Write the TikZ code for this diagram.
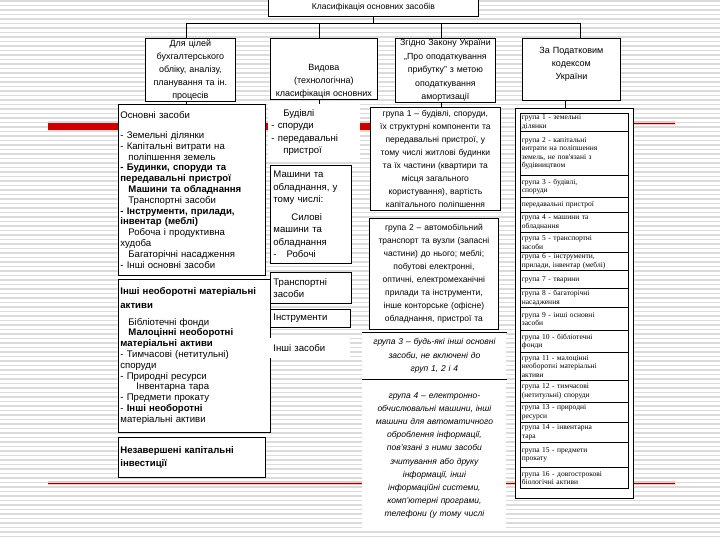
\documentclass[tikz,border=0pt]{standalone}
\usepackage{fontspec}
\setmainfont{Liberation Sans}
\newfontfamily\codexfont{Liberation Serif}
\usetikzlibrary{calc}

\begin{document}
\begin{tikzpicture}[x=1pt, y=-1pt,
    cellbox/.style={draw, fill=white, line width=0.8pt, anchor=north west, inner sep=2pt},
    headbox/.style={cellbox, align=center, inner sep=1pt, font=\fontsize{9}{13}\selectfont},
    listbox/.style={cellbox, align=left, font=\fontsize{9.6}{10.8}\selectfont},
    kindbox/.style={cellbox, align=left, inner sep=3pt, font=\fontsize{9.6}{12.5}\selectfont},
    lawbox/.style={cellbox, align=center, font=\fontsize{8.5}{13}\selectfont},
    rowbox/.style={cellbox, align=left, inner sep=1.5pt, font=\codexfont\fontsize{7.5}{8.4}\selectfont},
    link/.style={line width=0.8pt}]

    \useasboundingbox (0,0) rectangle (720,540);

    % Lined background
    \foreach \yy in {1,5.5,...,540}
        \draw[black!14, line width=1.2pt] (0,\yy) -- (720,\yy);

    % Red rules
    \draw[red!20, line width=11pt] (48,127) -- (450,127);
    \draw[red!80!black, line width=7pt] (48,127) -- (450,127);
    \draw[red!25, line width=4pt] (633,123) -- (675,123);
    \draw[red!60!black, line width=0.8pt] (633,123) -- (675,123);
    \draw[red!25, line width=4pt] (48,483) -- (675,483);
    \draw[red!60!black, line width=0.8pt] (48,483) -- (675,483);

    % Title
    \node[headbox, font=\fontsize{8.5}{10}\selectfont, minimum width=210pt, minimum height=18pt] (title) at (268,-2) {Класифікація основних засобів};

    % Classification criteria
    \node[headbox, text width=88pt, minimum width=90pt] (acc) at (145,38)
        {Для цілей\\бухгалтерського\\обліку, аналізу,\\планування та ін.\\процесів};
    \node[headbox, text width=105pt, minimum width=107pt] (kind) at (270,38)
        {\mbox{}\\[18pt]Видова\\(технологічна)\\класифікація основних};
    \node[headbox, font=\fontsize{8.8}{13.5}\selectfont, text width=98pt, minimum width=100pt] (law) at (395,38)
        {Згідно Закону України\\„Про оподаткування\\прибутку” з метою\\оподаткування\\амортизації};
    \node[headbox, text width=96pt, minimum width=98pt, minimum height=62pt] (tax) at (522,38)
        {За Податковим\\кодексом\\України\\\mbox{}};

    % Connectors from the title
    \coordinate (busL) at (186,23);
    \coordinate (busB) at (319,23);
    \coordinate (busC) at (441,23);
    \coordinate (busR) at (580,23);
    \coordinate (dropD) at (565,0);
    \draw[link] (busL) -- (busR);
    \draw[link] (title.south) -- (title.south |- busL);
    \foreach \c/\n in {busL/acc, busB/kind, busC/law, busR/tax}
        \draw[link] (\c) -- (\c |- \n.north);

    % Column 1: accounting
    \node[listbox, text width=143pt, minimum height=171pt] (fixed) at (118,104)
        {Основні засоби\\[9pt]
        - Земельні ділянки\\
        - Капітальні витрати на\\
        \hspace*{8pt}поліпшення земель\\
        \textbf{- Будинки, споруди та}\\
        \textbf{передавальні пристрої}\\
        \textbf{\hspace*{8pt}Машини та обладнання}\\
        \hspace*{8pt}Транспортні засоби\\
        \textbf{- Інструменти, прилади,}\\
        \textbf{інвентар (меблі)}\\
        \hspace*{8pt}Робоча і продуктивна\\
        худоба\\
        \hspace*{8pt}Багаторічні насадження\\
        - Інші основні засоби};
    \node[listbox, text width=148pt, minimum height=153pt] (other) at (118,279)
        {\textbf{Інші необоротні матеріальні}\\[3pt]
        \textbf{активи}\\[6pt]
        \hspace*{8pt}Бібліотечні фонди\\
        \textbf{\hspace*{8pt}Малоцінні необоротні}\\
        \textbf{матеріальні активи}\\
        - Тимчасові (нетитульні)\\
        споруди\\
        - Природні ресурси\\
        \hspace*{16pt}Інвентарна тара\\
        - Предмети прокату\\
        - \textbf{Інші необоротні}\\
        матеріальні активи};
    \node[listbox, font=\fontsize{9.6}{13}\selectfont, text width=143pt, minimum height=40pt] (unfinished) at (118,437)
        {\textbf{Незавершені капітальні}\\\textbf{інвестиції}};

    % Column 2: kinds
    \node[kindbox, draw=none, text width=86pt, minimum height=56pt] (build) at (268,104)
        {\hspace*{12pt}Будівлі\\- споруди\\- передавальні\\\hspace*{12pt}пристрої};
    \node[kindbox, text width=75pt, minimum height=98pt] (machines) at (270,165)
        {Машини та\\обладнання, у\\тому числі:\\[5pt]
        \hspace*{18pt}Силові\\машини та\\обладнання\\-\hspace*{10pt}Робочі};
    \node[kindbox, text width=75pt, minimum height=31pt] (transport) at (270,272)
        {Транспортні\\засоби};
    \node[kindbox, text width=74pt, minimum height=18pt] (tools) at (270,309)
        {Інструменти};
    \node[kindbox, draw=none, text width=74pt, minimum height=20pt] (rest) at (270,338)
        {Інші засоби};

    % Column 3: profit tax law groups
    \node[lawbox, text width=126pt, minimum height=103pt] (grp1) at (370,107)
        {група 1 – будівлі, споруди,\\їх структурні компоненти та\\передавальні пристрої, у\\тому числі житлові будинки\\та їх частини (квартири та\\місця загального\\користування), вартість\\капітального поліпшення};
    \node[lawbox, text width=125pt, minimum height=111pt] (grp2) at (369,218)
        {група 2 – автомобільний\\транспорт та вузли (запасні\\частини) до нього; меблі;\\побутові електронні,\\оптичні, електромеханічні\\прилади та інструменти,\\інше конторське (офісне)\\обладнання, пристрої та};
    \node[lawbox, draw=none, font=\itshape\fontsize{8.5}{13.5}\selectfont, text width=140pt, minimum height=47pt] (grp3) at (362,332)
        {група 3 – будь-які інші основні\\засоби, не включені до\\груп 1, 2 і 4};
    \draw[link] (grp3.north west) -- (grp3.north east);
    \draw[link] (grp3.south west) -- (grp3.south east);
    \node[lawbox, draw=none, font=\itshape\fontsize{8.5}{13.2}\selectfont, text width=140pt, minimum height=150pt] (grp4) at (362,380)
        {група 4 – електронно-\\обчислювальні машини, інші\\машини для автоматичного\\оброблення інформації,\\пов'язані з ними засоби\\зчитування або друку\\інформації, інші\\інформаційні системи,\\комп'ютерні програми,\\телефони (у тому числі};

    % Column 4: tax code groups
    \node[cellbox, line width=1pt, minimum width=118pt, minimum height=390pt] (taxframe) at (515,108) {};
    \foreach \rowtop/\rowh/\rowtext [count=\i] in {
        113/18/{група 1 - земельні\\ділянки},
        131/44/{група 2 - капітальні\\витрати на поліпшення\\земель, не пов'язані з\\будівництвом},
        175/22/{група 3 - будівлі,\\споруди},
        197/15/{передавальні пристрої},
        212/20/{група 4 - машини та\\обладнання},
        232/20/{група 5 - транспортні\\засоби},
        252/18/{група 6 - інструменти,\\прилади, інвентар (меблі)},
        270/18/{група 7 - тварини},
        288/19/{група 8 - багаторічні\\насадження},
        307/23/{група 9 - інші основні\\засоби},
        330/22/{група 10 - бібліотечні\\фонди},
        352/28/{група 11 - малоцінні\\необоротні матеріальні\\активи},
        380/22/{група 12 - тимчасові\\(нетитульні) споруди},
        402/20/{група 13 - природні\\ресурси},
        422/20/{група 14 - інвентарна\\тара},
        442/25/{група 15 - предмети\\прокату},
        467/21/{група 16 - довгострокові\\біологічні активи}}
        \node[rowbox, text width=105pt, minimum height=\rowh pt] (g\i) at (520,\rowtop) {\rowtext};

    % Drops to the columns
    \draw[link] (busL |- acc.south) -- (busL |- fixed.north);
    \draw[link] (busB |- kind.south) -- (busB |- build.north);
    \draw[link] (busC |- law.south) -- (busC |- grp1.north);
    \draw[link] (dropD |- tax.south) -- (dropD |- taxframe.north);
\end{tikzpicture}
\end{document}
